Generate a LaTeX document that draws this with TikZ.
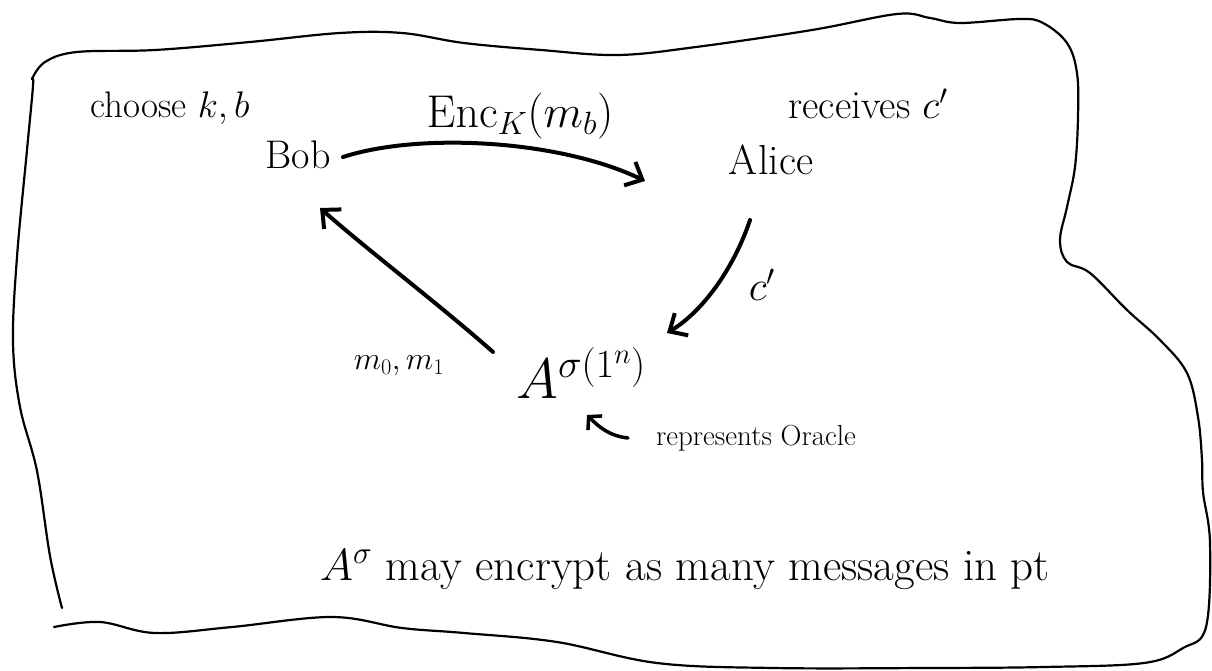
\RequirePackage{fix-cm}
\documentclass[tikz,border=0pt]{standalone}
\usetikzlibrary{arrows.meta,calc}
\begin{document}
\begin{tikzpicture}[x=1pt,y=-1pt,
  lbl/.style={inner sep=0pt},
  fs/.style={font=\fontsize{#1}{#1}\selectfont},
  conn/.style={line width=4pt, line cap=round, -{Straight Barb[length=14pt,width=26pt,line width=4pt]}},
  thinconn/.style={line width=3.5pt, line cap=round, -{Straight Barb[length=9pt,width=20pt,line width=3.5pt]}},
  outline/.style={line width=2.2pt, line cap=round, line join=round}]
\useasboundingbox (0,0) rectangle (1212,671);

% hand-drawn frame
\draw[outline] plot[smooth, tension=0.6] coordinates {(62,608) (50,556) (37,471) (20,407) (13,342) (17,257) (27,150) (33,86) (32,79)};
\draw[outline] plot[smooth, tension=0.6] coordinates {(32,79) (45,62) (77,52) (155,50) (250,42) (340,33) (402,33) (464,43) (541,50) (618,55) (696,47) (812,30) (897,14) (930,18) (960,23) (1020,19) (1043,23) (1067,43) (1077,73) (1078,117) (1075,167) (1067,207) (1060,240) (1067,262) (1090,273) (1127,310) (1160,340) (1187,373) (1198,417) (1202,460) (1203,492) (1210,543) (1206,627) (1183,648) (1144,663) (1044,667) (928,668) (773,668) (657,663) (557,642) (464,633) (402,628) (332,617) (232,627) (155,633) (100,622) (54,627)};

% labels and nodes
\node[lbl, fs=37] (choose) at (170,108) {choose $k,b$};
\node[lbl, fs=40] (bob) at (298,155) {Bob};
\node[lbl, fs=46] (enc) at (520,116) {$\mathrm{Enc}_K(m_b)$};
\node[lbl, fs=40] (recv) at (868,104) {receives $c'$};
\node[lbl, fs=42] (alice) at (771,160) {Alice};
\node[lbl, fs=42] (cp) at (762,285) {$c'$};
\node[lbl, fs=57] (adv) at (581,373) {$A^{\sigma(1^n)}$};
\node[lbl, fs=32] (msgs) at (399,366) {$m_0, m_1$};
\node[lbl, fs=29] (rep) at (756,438) {represents Oracle};
\node[lbl, fs=45, anchor=base west] (note) at (320,580) {$A^{\sigma}$ may encrypt as many messages in pt};
\coordinate (sig) at (587,415);

% connectors
\draw[conn] ($(bob)+(45,2)$) .. controls (420,132) and (560,140) .. ($(alice)+(-126,21)$);
\draw[conn] ($(alice)+(-21,60)$) .. controls (735,265) and (705,310) .. ($(adv)+(86,-40)$);
\draw[conn] ($(adv)+(-88,-21)$) .. controls (440,305) and (370,252) .. ($(bob)+(22,53)$);
\draw[thinconn] ($(rep)+(-128,0)$) .. controls (610,436) and (600,428) .. (sig);
\end{tikzpicture}
\end{document}
